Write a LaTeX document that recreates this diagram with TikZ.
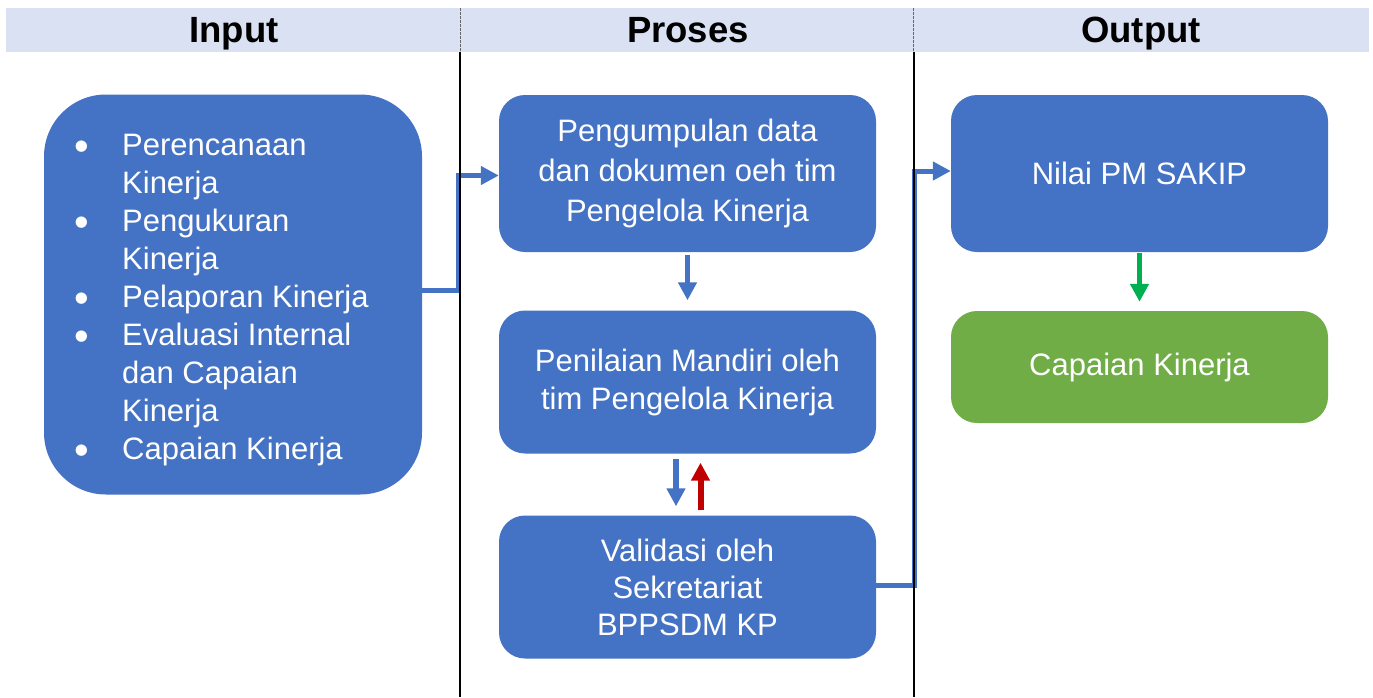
\documentclass[tikz,border=0pt]{standalone}
\usepackage{fontspec}
\setmainfont{Liberation Sans}
\usetikzlibrary{arrows.meta}
\definecolor{boxblue}{HTML}{4472C4}
\definecolor{boxgreen}{HTML}{70AD47}
\definecolor{bandblue}{HTML}{DAE1F2}
\definecolor{arrred}{HTML}{C00000}
\definecolor{arrgreen}{HTML}{00B050}
\newcommand{\bul}{\makebox[0pt][r]{\smash{\raisebox{-4.5pt}{\scalebox{1.35}{\textbullet}}}\hspace{33pt}}}
\tikzset{
  x=1pt, y=-1pt,
  body/.style={font=\fontsize{31}{38}\selectfont},
  head/.style={font=\fontsize{36.5}{40}\selectfont\bfseries, text=black, anchor=base},
  stepbox/.style={fill=boxblue, rounded corners=26pt, minimum width=377pt,
    text=white, align=center, inner sep=0pt, body},
  flow/.style={draw=boxblue, line width=5pt,
    -{Triangle[length=18pt,width=18pt]}},
  divider/.style={line width=2pt, black},
}
\begin{document}
\begin{tikzpicture}
\useasboundingbox (0,0) rectangle (1373,697);
% header band
\fill[bandblue] (6,8) rectangle (1369,52);
\node[head] (hin)  at (234,42)  {Input};
\node[head] (hpro) at (688,42)  {Proses};
\node[head] (hout) at (1141,42) {Output};

% input list
\node[fill=boxblue, rounded corners=62pt, minimum width=378pt, minimum height=400pt,
  inner sep=0pt] (input) at (233,294.5) {};
\node[body, text=white, align=left, anchor=north west, inner sep=0pt] (inlist) at (122,134)
  {\bul Perencanaan\\Kinerja\\\bul Pengukuran\\Kinerja\\\bul Pelaporan Kinerja\\
   \bul Evaluasi Internal\\dan Capaian\\Kinerja\\\bul Capaian Kinerja};

% process steps
\node[stepbox, minimum height=157pt] (p1) at (687.5,173.5)
  {Pengumpulan data\\[2pt]dan dokumen oeh tim\\[2pt]Pengelola Kinerja};
\node[stepbox, minimum height=143pt] (p2) at (687.5,382)
  {Penilaian Mandiri oleh\\tim Pengelola Kinerja};
\node[stepbox, minimum height=143pt] (p3) at (687.5,587)
  {Validasi oleh\\[-1pt]Sekretariat\\[-1pt]BPPSDM KP};

% outputs
\node[stepbox, minimum height=157pt] (o1) at (1139.5,173.5) {Nilai PM SAKIP};
\node[stepbox, fill=boxgreen, minimum height=112pt] (o2) at (1139.5,367) {Capaian Kinerja};

% connectors
\coordinate (a1) at (458,290);
\coordinate (a2) at (458,175.5);
\draw[flow] (input.east |- a1) -- (a1) -- (a2) -- (p1.west |- a2);
\coordinate (b1) at (914.5,585);
\coordinate (b2) at (914.5,171);
\draw[flow] (p3.east |- b1) -- (b1) -- (b2) -- (o1.west |- b2);

\draw[flow, line width=5pt] ([yshift=-3pt]p1.south) -- ([yshift=10pt]p2.north);
\draw[flow, line width=6pt] ([xshift=-11.5pt,yshift=-5pt]p2.south) -- ([xshift=-11.5pt,yshift=9pt]p3.north);
\draw[flow, draw=arrred, line width=6pt] ([xshift=13pt,yshift=5pt]p3.north) -- ([xshift=13pt,yshift=-9pt]p2.south);
\draw[flow, draw=arrgreen, line width=5pt] ([yshift=-1pt]o1.south) -- ([yshift=9pt]o2.north);

% column dividers
\coordinate (d1t) at (460,8);
\coordinate (d1m) at (460,52);
\coordinate (d1b) at (460,697);
\coordinate (d2t) at (913.5,8);
\coordinate (d2m) at (913.5,52);
\coordinate (d2b) at (913.5,697);
\draw[line width=1pt, gray!80!black, dash pattern=on 2.5pt off 1.5pt] (d1t) -- (d1m);
\draw[line width=1pt, gray!80!black, dash pattern=on 2.5pt off 1.5pt] (d2t) -- (d2m);
\draw[divider] (d1m) -- (d1b);
\draw[divider] (d2m) -- (d2b);
\end{tikzpicture}
\end{document}
